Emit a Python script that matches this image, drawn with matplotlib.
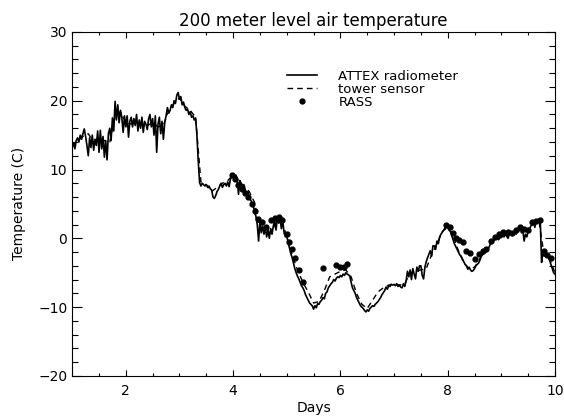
import numpy as np
import matplotlib
matplotlib.use("Agg")
import matplotlib.pyplot as plt
from matplotlib.ticker import MultipleLocator

# ATTEX radiometer, one value every 0.025 day from day 1.0 to 10.0
radiometer = [
    13.2, 13.8, 13.0, 14.2, 14.6, 14.0, 15.0, 14.4, 15.2, 15.9,
    14.8, 13.5, 12.0, 14.6, 13.2, 15.0, 12.8, 14.4, 13.5, 15.6,
    12.5, 15.7, 13.0, 14.8, 11.8, 14.2, 11.4, 15.2, 16.0, 14.2,
    17.5, 15.6, 19.9, 17.2, 19.4, 16.8, 18.6, 17.6, 15.4, 17.8,
    16.2, 17.8, 14.7, 17.0, 17.6, 16.2, 17.4, 16.4, 18.0, 15.6,
    17.2, 16.0, 17.6, 15.4, 17.0, 16.6, 15.8, 17.4, 18.0, 16.2,
    17.4, 15.0, 17.8, 12.5, 16.6, 17.6, 15.2, 17.0, 14.4, 16.8,
    17.8, 19.0, 18.2, 18.6, 19.4, 19.0, 20.0, 19.6, 20.8, 21.2,
    20.2, 20.6, 19.4, 19.8, 19.0, 18.6, 18.8, 18.0, 18.4, 17.6,
    17.8, 17.2, 17.5, 15.0, 11.2, 8.1, 7.6, 8.0, 7.8, 7.6,
    7.8, 7.4, 7.6, 7.2, 7.0, 6.0, 5.8, 6.2, 6.8, 7.1,
    7.6, 8.0, 7.4, 7.8, 8.0, 7.6, 8.2, 7.5, 8.6, 9.0,
    9.3, 8.8, 9.2, 8.8, 6.4, 8.4, 8.0, 7.4, 7.8, 7.0,
    6.4, 6.8, 6.0, 5.6, 5.2, 4.8, 3.8, 3.2, 2.0, -0.4,
    2.5, 0.8, 1.8, 0.6, 1.5, 0.2, 1.2, 0.0, 1.4, 0.6,
    1.8, 2.6, 1.2, 3.0, 2.2, 2.8, 1.4, 2.6, 0.8, 0.2,
    0.3, -0.6, -1.4, -2.2, -2.8, -3.6, -4.4, -5.0, -5.5, -5.9,
    -6.4, -6.9, -7.2, -7.6, -8.2, -8.6, -9.0, -9.4, -9.6, -9.8,
    -10.3, -9.8, -10.1, -9.5, -9.6, -9.2, -9.0, -8.6, -8.8, -8.0,
    -7.8, -7.2, -6.9, -6.6, -6.4, -6.0, -6.2, -5.8, -5.6, -5.7,
    -5.4, -5.6, -5.2, -5.4, -5.0, -5.2, -5.3, -5.5, -6.4, -7.2,
    -7.6, -8.0, -8.6, -9.0, -9.4, -9.8, -10.0, -10.2, -10.5, -10.7,
    -10.4, -10.6, -10.2, -10.0, -9.8, -9.9, -9.6, -9.4, -9.2, -8.9,
    -8.6, -8.2, -7.9, -7.6, -7.1, -7.4, -6.9, -7.0, -6.7, -6.8,
    -6.7, -6.9, -6.6, -7.0, -6.8, -7.1, -7.2, -6.6, -7.0, -6.2,
    -4.8, -5.6, -4.6, -6.0, -4.4, -5.2, -5.9, -4.2, -4.8, -4.0,
    -4.0, -5.4, -5.9, -4.2, -3.4, -2.8, -2.3, -1.8, -2.6, -1.1,
    -1.1, -1.6, -0.4, -0.8, 0.2, 0.6, 0.9, 1.2, 1.5, 1.7,
    1.6, 1.2, 1.0, 0.4, -0.2, -0.8, -1.2, -1.6, -2.0, -2.4,
    -2.6, -3.0, -3.4, -3.8, -4.0, -4.5, -4.2, -4.6, -4.8, -4.7,
    -4.4, -4.0, -3.8, -3.6, -3.2, -2.6, -2.4, -2.2, -1.8, -1.6,
    -1.6, -1.2, -0.8, -0.6, -0.4, -0.2, 0.0, 0.2, -0.2, 0.1,
    0.1, 0.4, 0.2, 0.6, 0.3, 0.0, 0.6, 0.8, 0.4, 0.9,
    1.0, 0.6, 1.2, 1.4, 1.7, 0.8, 1.2, -0.4, 0.6, 0.2,
    1.0, 1.3, 1.8, 2.0, 2.3, 1.6, 2.4, 2.2, 2.6, 2.8,
    -3.5, -2.0, -2.6, -1.8, -2.4, -2.6, -3.2, -3.8, -4.4, -5.0,
    -5.2,
]
radiometer_days = np.linspace(1.0, 10.0, len(radiometer))

# tower sensor, every 0.1 day
tower = [
    13.4, 14.2, 14.8, 15.2, 14.0, 14.6, 14.2, 14.0, 17.8, 18.4,
    16.8, 16.6, 16.8, 16.6, 16.4, 16.8, 16.2, 16.4, 18.6, 19.6,
    20.4, 19.2, 18.6, 17.6, 8.2, 7.8, 6.8, 7.4, 8.0, 8.4,
    9.2, 8.4, 7.6, 6.8, 5.2, 1.4, 1.2, 0.8, 2.2, 2.4,
    0.4, -2.4, -4.6, -6.4, -7.8, -9.4, -9.2, -7.6, -5.6, -5.2,
    -4.8, -4.6, -5.6, -8.0, -9.6, -10.2, -9.0, -7.8, -7.2, -6.8,
    -6.6, -6.8, -6.6, -5.0, -4.8, -4.6, -4.4, -2.4, -0.8, 1.0,
    1.6, 0.4, -1.8, -3.6, -4.4, -4.2, -3.0, -1.6, -0.8, -0.2,
    0.2, 0.4, 0.8, 1.2, 1.0, 1.4, 2.0, 2.6, -2.6, -3.0,
    -5.0,
]
tower_days = np.linspace(1.0, 10.0, len(tower))

# RASS profiler points
rass_days = [3.98, 4.04, 4.10, 4.16, 4.22, 4.28, 4.35, 4.40, 4.47, 4.54,
             4.62, 4.70, 4.78, 4.85, 4.92, 5.00, 5.05, 5.10, 5.16, 5.22,
             5.30, 5.67, 5.92, 6.00, 6.06, 6.12, 7.97, 8.04, 8.10, 8.16,
             8.22, 8.28, 8.35, 8.42, 8.50, 8.58, 8.65, 8.72, 8.80, 8.88,
             8.96, 9.04, 9.12, 9.20, 9.28, 9.35, 9.42, 9.50, 9.58, 9.65,
             9.72, 9.80, 9.86, 9.92]
rass_temp = [9.2, 8.6, 7.8, 7.2, 6.6, 6.0, 5.0, 4.0, 2.8, 2.4,
             1.6, 2.6, 3.0, 3.1, 2.6, 0.6, -0.6, -1.6, -2.9, -4.6,
             -6.4, -4.3, -3.9, -4.2, -4.1, -3.8, 2.0, 1.6, 0.8, 0.0,
             -0.3, -0.6, -1.9, -2.2, -3.0, -2.3, -1.9, -1.6, -0.4, 0.2,
             0.6, 0.9, 0.9, 0.8, 1.2, 1.7, 1.3, 1.2, 2.3, 2.5,
             2.6, -1.9, -2.4, -2.8]

fig = plt.figure(figsize=(5.64, 4.20), dpi=100)
ax = fig.add_axes([0.128, 0.105, 0.856, 0.819])

ax.plot(radiometer_days, radiometer, color="black", lw=1.2, label="ATTEX radiometer")
ax.plot(tower_days, tower, color="black", lw=1.0, ls=(0, (4, 3)), label="tower sensor")
ax.plot(rass_days, rass_temp, "o", color="black", ms=3.5, label="RASS")

ax.set_xlim(1, 10)
ax.set_ylim(-20, 30)
ax.xaxis.set_major_locator(MultipleLocator(2))
ax.xaxis.set_minor_locator(MultipleLocator(0.5))
ax.yaxis.set_major_locator(MultipleLocator(10))
ax.yaxis.set_minor_locator(MultipleLocator(2))
ax.tick_params(axis="both", which="both", direction="in", top=True, right=True,
               labelsize=10, width=0.8)
ax.tick_params(axis="x", which="major", length=4.5, pad=6)
ax.tick_params(axis="x", which="minor", length=2.5)
ax.tick_params(axis="y", which="major", length=7)
ax.tick_params(axis="y", which="minor", length=4)
for s in ax.spines.values():
    s.set_linewidth(0.8)

ax.set_title("200 meter level air temperature", fontsize=12, pad=4)
ax.set_xlabel("Days", fontsize=10, labelpad=2)
ax.set_ylabel("Temperature (C)", fontsize=10, labelpad=9)

ax.legend(loc="upper left", bbox_to_anchor=(0.445, 0.89), frameon=False,
          fontsize=9.5, handlelength=2.3, handletextpad=1.6, labelspacing=0.0,
          borderpad=0, borderaxespad=0)

fig.savefig("out.png", dpi=100)
